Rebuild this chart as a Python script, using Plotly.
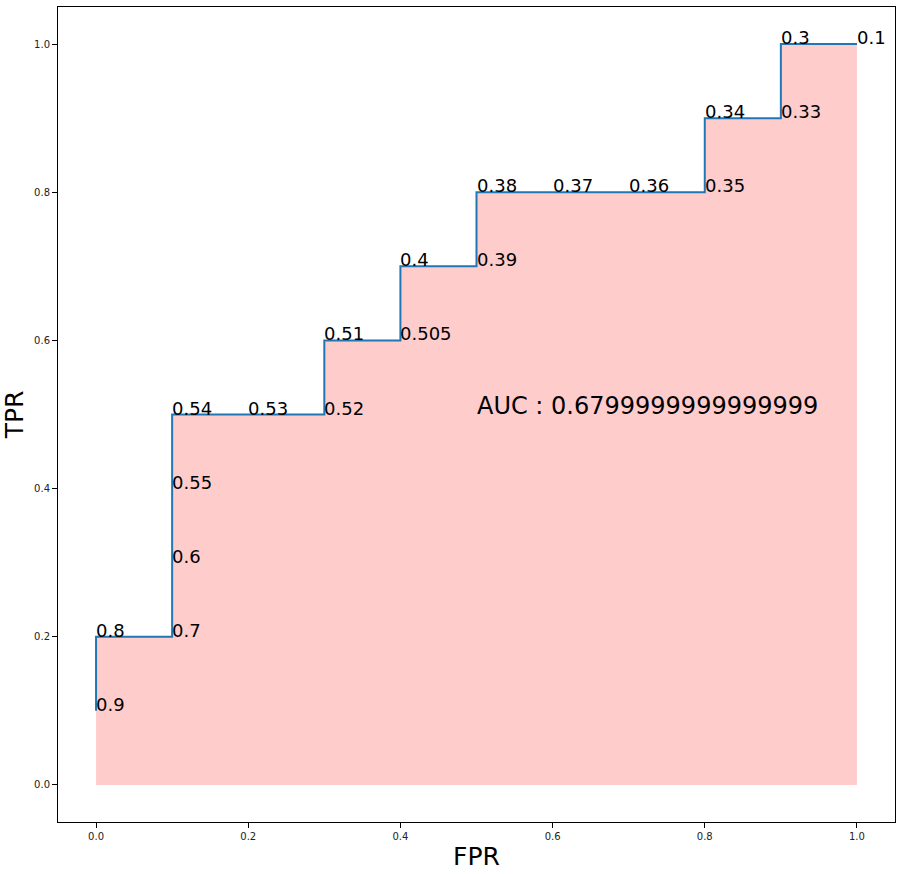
import plotly.graph_objects as go

fpr = [0.0, 0.0, 0.1, 0.1, 0.1, 0.1, 0.2, 0.3, 0.3, 0.4, 0.4, 0.5, 0.5, 0.6, 0.7, 0.8, 0.8, 0.9, 0.9, 1.0]
tpr = [0.1, 0.2, 0.2, 0.3, 0.4, 0.5, 0.5, 0.5, 0.6, 0.6, 0.7, 0.7, 0.8, 0.8, 0.8, 0.8, 0.9, 0.9, 1.0, 1.0]
thresholds = ["0.9", "0.8", "0.7", "0.6", "0.55", "0.54", "0.53", "0.52", "0.51", "0.505",
              "0.4", "0.39", "0.38", "0.37", "0.36", "0.35", "0.34", "0.33", "0.3", "0.1"]
auc_text = "AUC : 0.6799999999999999"
auc_pos = (0.5, 0.5)

fig = go.Figure()
fig.add_trace(go.Scatter(x=fpr, y=tpr, mode="none", fill="tozeroy",
                         fillcolor="#ffcccc", hoverinfo="skip", showlegend=False))
fig.add_trace(go.Scatter(x=fpr, y=tpr, mode="lines",
                         line=dict(color="#1f77b4", width=2), showlegend=False))

for x, y, t in zip(fpr, tpr, thresholds):
    fig.add_annotation(x=x, y=y, text=t, showarrow=False, xanchor="left", yanchor="bottom",
                       xshift=-1, yshift=-5, borderpad=0,
                       font=dict(family="DejaVu Sans", size=18, color="black"))
fig.add_annotation(x=auc_pos[0], y=auc_pos[1], text=auc_text, showarrow=False,
                   xanchor="left", yanchor="bottom", xshift=-1, yshift=-6, borderpad=0,
                   font=dict(family="DejaVu Sans", size=24, color="black"))

axis_common = dict(range=[-0.05, 1.05], tickvals=[0, 0.2, 0.4, 0.6, 0.8, 1.0],
                   tickformat=".1f", showgrid=False, zeroline=False, automargin=False,
                   showline=True, linecolor="black", linewidth=1, mirror=True,
                   ticks="outside", ticklen=5, tickcolor="black",
                   tickfont=dict(family="DejaVu Sans", size=10, color="#222"))

fig.update_layout(
    width=902, height=874,
    margin=dict(l=58, r=7, t=7, b=52),
    paper_bgcolor="white", plot_bgcolor="white",
    font=dict(family="DejaVu Sans"),
    xaxis=dict(**axis_common, title=dict(text="FPR", font=dict(size=25, color="black"), standoff=6)),
    yaxis=dict(**axis_common, title=dict(text="TPR", font=dict(size=25, color="black"), standoff=6)),
)

fig.write_html("out.html", config={"displayModeBar": False},
               post_script="document.body.style.margin='0';document.body.style.overflow='hidden';")
